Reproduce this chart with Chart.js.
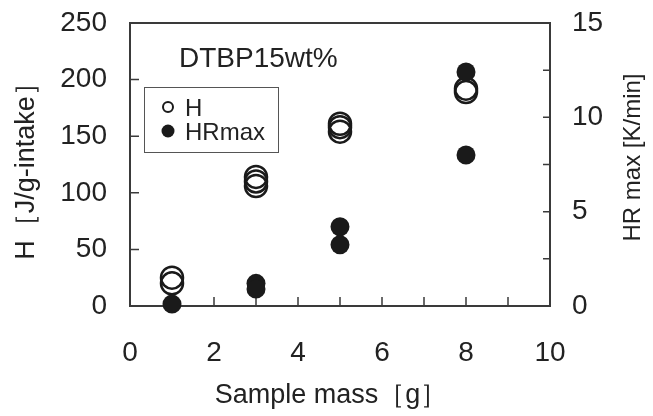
<!DOCTYPE html>
<html>
<head>
<meta charset="utf-8">
<script src="https://cdn.jsdelivr.net/npm/chart.js@4"></script>
<style>
  html, body { margin: 0; padding: 0; background: #fff; }
</style>
</head>
<body>
<canvas id="chart" width="653" height="416"></canvas>
<script>
// sample mass [g] and heat of reaction H [J/g-intake]
const massH = [1, 1, 3, 3, 3, 5, 5, 5, 8, 8]
const heatH = [25, 20, 114, 110, 106, 161, 158, 154, 192, 189]

// sample mass [g] and max heating rate HRmax [K/min]
const massHR = [1, 3, 3, 5, 5, 8, 8]
const heatRate = [0.1, 1.2, 0.9, 4.2, 3.25, 12.4, 8.0]

const xTicks = [0, 2, 4, 6, 8, 10]
const leftTicks = [0, 50, 100, 150, 200, 250]
const rightTicks = [0, 5, 10, 15]

const ink = '#1a1a1a'
const family = '"Liberation Sans", Arial, sans-serif'

function pairs(xs, ys) {
  return xs.map((x, i) => ({ x: x, y: ys[i] }))
}

// inward ticks, frame, legend box, note and the axis titles
const decor = {
  id: 'decor',
  beforeDatasetsDraw(chart) {
    const { ctx, chartArea: a, scales } = chart
    ctx.save()
    ctx.strokeStyle = '#3a3a3a'
    ctx.lineWidth = 1.5
    ctx.beginPath()
    scales.x.ticks.forEach(t => {
      const px = scales.x.getPixelForValue(t.value)
      ctx.moveTo(px, a.bottom)
      ctx.lineTo(px, a.bottom - 9)
    })
    scales.y.ticks.forEach(t => {
      const py = scales.y.getPixelForValue(t.value)
      ctx.moveTo(a.left, py)
      ctx.lineTo(a.left + 9, py)
    })
    scales.y2.ticks.forEach(t => {
      const py = scales.y2.getPixelForValue(t.value)
      ctx.moveTo(a.right, py)
      ctx.lineTo(a.right - 7, py)
    })
    ctx.stroke()
    ctx.lineWidth = 2
    ctx.strokeRect(a.left, a.top, a.right - a.left, a.bottom - a.top)
    ctx.restore()
  },
  afterDraw(chart) {
    const { ctx, chartArea: a } = chart
    ctx.save()
    ctx.fillStyle = '#222'
    ctx.textBaseline = 'alphabetic'

    // note
    ctx.font = '28px ' + family
    ctx.textAlign = 'left'
    ctx.fillText('DTBP15wt%', a.left + 49, a.top + 44)

    // legend
    const lx = a.left + 14, ly = a.top + 64
    ctx.strokeStyle = '#555'
    ctx.lineWidth = 1
    ctx.strokeRect(lx + 0.5, ly + 0.5, 134, 65)
    ctx.strokeStyle = ink
    ctx.lineWidth = 2
    ctx.beginPath()
    ctx.arc(lx + 24, ly + 20, 5, 0, Math.PI * 2)
    ctx.stroke()
    ctx.fillStyle = ink
    ctx.beginPath()
    ctx.arc(lx + 24, ly + 44, 6.5, 0, Math.PI * 2)
    ctx.fill()
    ctx.fillStyle = '#222'
    ctx.font = '24px ' + family
    ctx.fillText('H', lx + 41, ly + 29)
    ctx.fillText('HRmax', lx + 41, ly + 53)

    // x title
    ctx.textAlign = 'center'
    ctx.font = '27px ' + family
    ctx.fillText('Sample mass［g］', a.left + 201, 403)

    // right axis title, reading upwards
    ctx.translate(640, (a.top + a.bottom) / 2 - 7)
    ctx.rotate(-Math.PI / 2)
    ctx.font = '24px ' + family
    ctx.fillText('HR max [K/min]', 0, 0)
    ctx.restore()
  }
}

new Chart(document.getElementById('chart'), {
  type: 'scatter',
  data: {
    datasets: [
      {
        label: 'H',
        data: pairs(massH, heatH),
        yAxisID: 'y',
        order: 2,
        pointRadius: 11,
        pointBorderWidth: 2.5,
        pointBorderColor: ink,
        pointBackgroundColor: 'rgba(0,0,0,0)',
        clip: false
      },
      {
        label: 'HRmax',
        data: pairs(massHR, heatRate),
        yAxisID: 'y2',
        order: 1,
        pointRadius: 9.5,
        pointBorderWidth: 0,
        pointBackgroundColor: ink,
        clip: false
      }
    ]
  },
  options: {
    responsive: false,
    devicePixelRatio: 1,
    animation: false,
    layout: { padding: { top: 23, left: 0, right: 0, bottom: 0 } },
    plugins: {
      legend: { display: false },
      tooltip: { enabled: false }
    },
    scales: {
      x: {
        type: 'linear',
        position: 'bottom',
        min: 0,
        max: 10,
        grid: { display: false, drawTicks: false },
        border: { display: false },
        ticks: {
          stepSize: 1,
          padding: 30,
          color: '#222',
          font: { family: family, size: 28 },
          callback: v => xTicks.includes(v) ? String(v) : ''
        },
        afterFit(scale) {
          scale.height = 110
          scale.paddingLeft = 0
          scale.paddingRight = 0
        }
      },
      y: {
        position: 'left',
        min: 0,
        max: 250,
        grid: { display: false, drawTicks: false },
        border: { display: false },
        ticks: {
          stepSize: 25,
          padding: 23,
          color: '#222',
          font: { family: family, size: 28 },
          callback: v => leftTicks.includes(v) ? String(v) : ''
        },
        title: {
          display: true,
          text: 'H［J/g-intake］',
          color: '#222',
          font: { family: family, size: 27 },
          padding: { top: 10, bottom: 0 }
        },
        afterFit(scale) {
          scale.width = 130
          scale.paddingTop = 0
          scale.paddingBottom = 0
        }
      },
      y2: {
        position: 'right',
        min: 0,
        max: 15,
        grid: { display: false, drawTicks: false },
        border: { display: false },
        ticks: {
          stepSize: 2.5,
          padding: 22,
          color: '#222',
          font: { family: family, size: 28 },
          callback: v => rightTicks.includes(v) ? String(v) : ''
        },
        afterFit(scale) {
          scale.width = 103
          scale.paddingTop = 0
          scale.paddingBottom = 0
        }
      }
    }
  },
  plugins: [decor]
})
</script>
</body>
</html>
